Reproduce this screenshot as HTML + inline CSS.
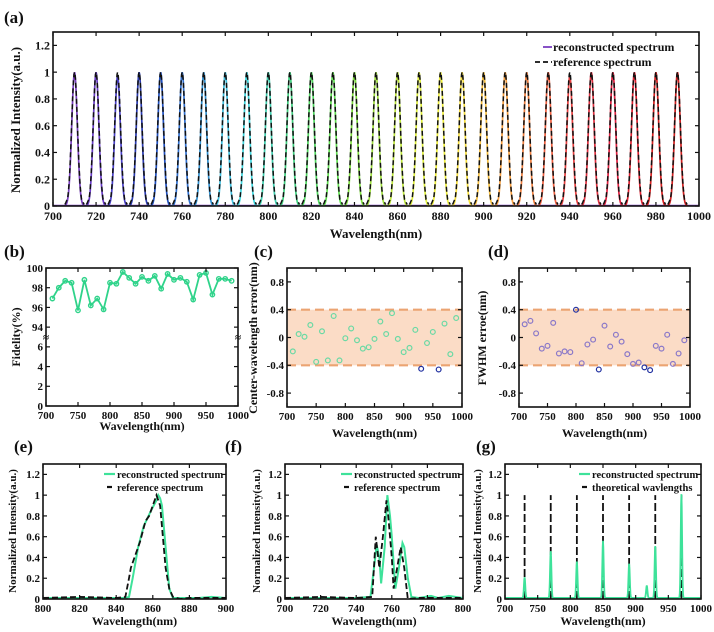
<!DOCTYPE html>
<html><head><meta charset="utf-8">
<style>
html,body{margin:0;padding:0;background:#fff;}
svg{display:block;font-family:"Liberation Serif",serif;font-weight:bold;}
</style></head>
<body>
<svg id="fig" width="714" height="632" viewBox="0 0 714 632" xmlns="http://www.w3.org/2000/svg"></svg>
<script>
// ---------- data ----------
const peakCenters = [710,720,730,740,750,760,770,780,790,800,810,820,830,840,850,860,870,880,890,900,910,920,930,940,950,960,970,980,990];
const peakHeights = [1,1,0.97,1,1,1,1,1,1,1,1,1,1,1,1,1,1,1,1,1,1,1,1,0.97,1,1,1,1,1];
const peakColors = ["#7a3fc0","#6a3cc8","#4a40c8","#2a3ab0","#2050c0","#3070d0","#3090d0","#40c0e0","#40d8e0","#40d0b0","#40d080","#50d860","#60e050","#80e040","#a0e040","#c0e840","#e0f040","#f0f040","#f8e040","#f8c040","#f8a040","#f08040","#f06040","#e84040","#e03040","#e02040","#e02030","#d82020","#d02020"];

const fidWl = [710,720,730,740,750,760,770,780,790,800,810,820,830,840,850,860,870,880,890,900,910,920,930,940,950,960,970,980,990];
const fidVals = [96.9,98.0,98.7,98.5,95.7,98.8,96.2,96.9,95.8,98.5,98.4,99.6,99.0,98.4,99.1,98.7,99.2,97.9,99.4,98.8,99.0,98.6,96.8,99.3,99.5,97.3,98.9,98.9,98.7];
const cwErr = [-0.2,0.05,0.01,0.18,-0.35,0.09,-0.33,0.31,-0.33,-0.01,0.13,-0.04,-0.16,-0.14,-0.02,0.23,0.05,0.35,-0.02,-0.21,-0.15,0.11,-0.45,-0.08,0.08,-0.46,0.2,-0.24,0.28];
const fwhmErr = [0.19,0.24,0.06,-0.16,-0.12,0.21,-0.23,-0.2,-0.21,0.4,-0.37,-0.1,-0.03,-0.46,0.17,-0.13,0.04,-0.06,-0.24,-0.38,-0.36,-0.43,-0.47,-0.12,-0.16,0.04,-0.38,-0.23,-0.04];

const eWl    = [800,810,820,830,840,845,847,849,852,855,859,862,863,864,865,867,869,871,875,885,892,900];
const eRecon = [0.01,0.01,0.01,0.01,0.01,0.01,0.02,0.2,0.5,0.7,0.85,0.95,1.0,0.97,0.9,0.5,0.1,0.01,0.01,0.01,0.02,0.01];
const eRefWl = [800,820,840,845,847,848,851,853,856,858,860,862,864,865.5,867,869,871,875,880,900];
const eRef   = [0.01,0.02,0.01,0.02,0.2,0.3,0.45,0.55,0.75,0.8,0.9,1.0,0.9,0.6,0.3,0.1,0.02,0.0,0.01,0.01];

const fWl    = [700,720,740,748,750,751.5,753,754,756,757.5,759,760,762,764,766,767,769,771,775,782,786,792,800];
const fRecon = [0.01,0.01,0.01,0.02,0.3,0.52,0.4,0.15,0.5,1.0,0.8,0.6,0.1,0.3,0.54,0.5,0.2,0.02,0.01,0.03,0.01,0.03,0.01];
const fRefWl = [700,720,740,749,751,753,755,757,758,760,761,763,765,767,769,775,800];
const fRef   = [0.01,0.02,0.01,0.02,0.6,0.3,0.6,0.95,0.8,0.4,0.1,0.3,0.5,0.3,0.0,0.01,0.01];

const gTheory = [730,770,810,850,890,930,970];
const gPeakWl = [730,770,810,850,890,917,930,970];
const gPeakH  = [0.2,0.45,0.35,0.55,0.33,0.12,0.5,1.0];

// ---------- helpers ----------
const NS = "http://www.w3.org/2000/svg";
const svg = document.getElementById("fig");
function tag(e, name, inter){
  
  
  return e;
}
function mk(t, attrs, parent){
  const e = document.createElementNS(NS, t);
  for (const k in attrs) e.setAttribute(k, attrs[k]);
  (parent || svg).appendChild(e);
  return e;
}
function txt(s, x, y, size, anchor, parent, name, rot){
  const e = mk("text", {x:x, y:y, "font-size":size, "text-anchor":anchor||"middle", fill:"#111"}, parent);
  if (rot) e.setAttribute("transform", "rotate(-90 "+x+" "+y+")");
  e.textContent = s;
  tag(e, name, false);
  return e;
}
function axes(P){
  P.sx = v => P.l + (v - P.xmin) / (P.xmax - P.xmin) * (P.r - P.l);
  P.sy = v => P.b - (v - P.ymin) / (P.ymax - P.ymin) * (P.b - P.t);
  const g = mk("g", {});
  tag(g, P.name, false);
  P.g = g;
  const clip = mk("clipPath", {id: P.name + "-clip"}, g);
  mk("rect", {x:P.l, y:P.t, width:P.r-P.l, height:P.b-P.t}, clip);
  P.plot = mk("g", {"clip-path": "url(#" + P.name + "-clip)"}, g);
  tag(P.plot, P.name + "-plot-area", false);
  return P;
}
function frame(P, xt, yt, ytl, fs){
  const g = P.g;
  const box = mk("rect", {x:P.l, y:P.t, width:P.r-P.l, height:P.b-P.t, fill:"none", stroke:"#111", "stroke-width":1.6}, g);
  tag(box, P.name + "-frame", false);
  xt.forEach(v => {
    const x = P.sx(v);
    mk("line", {x1:x, x2:x, y1:P.b, y2:P.b-4, stroke:"#111", "stroke-width":1.2}, g);
    mk("line", {x1:x, x2:x, y1:P.t, y2:P.t+4, stroke:"#111", "stroke-width":1.2}, g);
    txt(String(v), x, P.b + fs + 2, fs, "middle", g, "x-tick-label");
  });
  yt.forEach((v, i) => {
    const y = P.sy(v);
    mk("line", {x1:P.l, x2:P.l+4, y1:y, y2:y, stroke:"#111", "stroke-width":1.2}, g);
    mk("line", {x1:P.r, x2:P.r-4, y1:y, y2:y, stroke:"#111", "stroke-width":1.2}, g);
    txt(ytl ? ytl[i] : String(v), P.l - 3, y + fs*0.35, fs, "end", g, "y-tick-label");
  });
}
function poly(P, xs, ys, style, name){
  const pts = xs.map((x, i) => P.sx(x).toFixed(2) + "," + P.sy(ys[i]).toFixed(2)).join(" ");
  const e = mk("polyline", Object.assign({points: pts, fill: "none"}, style), P.plot);
  tag(e, name, false);
  return e;
}
function gauss(c, h, s, lo, hi, step){
  const xs = [], ys = [];
  for (let x = lo; x <= hi + 1e-9; x += step){ xs.push(x); ys.push(h * Math.exp(-((x-c)*(x-c))/(2*s*s))); }
  return [xs, ys];
}
const GREEN = "#3ee29a";

// ---------- panel a ----------
const A = axes({name:"panel-a", l:53, r:699, t:32, b:206, xmin:700, xmax:1000, ymin:0, ymax:1.3});
const aBase = mk("line", {x1:A.l, x2:A.r, y1:A.sy(0.005), y2:A.sy(0.005), stroke:"#7a3fc0", "stroke-width":1.2}, A.plot);
tag(aBase, "recon-baseline", false);
peakCenters.forEach((c, i) => {
  const [xs, ys] = gauss(c, peakHeights[i], 1.3, c-5, c+5, 0.25);
  poly(A, xs, ys, {stroke: peakColors[i], "stroke-width": 1.7}, "recon-peak-" + c);
});
peakCenters.forEach((c, i) => {
  const [xs, ys] = gauss(c, 1, 1.35, c-4.5, c+4.5, 0.25);
  ys.forEach((v, k) => { if (Math.abs(xs[k]-c) > 3.2) ys[k] = 0.03 + 0.02*Math.cos((xs[k]-c)*2); });
  poly(A, xs, ys, {stroke:"#111", "stroke-width":1.5, "stroke-dasharray":"5,3"}, "ref-peak-" + c);
});
frame(A, [700,720,740,760,780,800,820,840,860,880,900,920,940,960,980,1000], [0,0.2,0.4,0.6,0.8,1,1.2], ["0","0.2","0.4","0.6","0.8","1","1.2"], 12);
txt("Wavelength(nm)", 376, 238, 13, "middle", A.g, "x-axis-title");
txt("Normalized Intensity(a.u.)", 20, 120, 13, "middle", A.g, "y-axis-title", true);
txt("(a)", 4, 23, 17, "start", A.g, "panel-label");
let lg = mk("g", {}, A.g); tag(lg, "legend", false);
let l1 = mk("line", {x1:543, x2:552, y1:47, y2:47, stroke:"#7a3fc0", "stroke-width":1.8}, lg); tag(l1, "legend-swatch-recon", false);
txt("reconstructed spectrum", 553, 51, 12, "start", lg, "legend-entry-recon");
let l2 = mk("line", {x1:535, x2:552, y1:62, y2:62, stroke:"#111", "stroke-width":1.8, "stroke-dasharray":"5,3"}, lg); tag(l2, "legend-swatch-ref", false);
txt("reference spectrum", 553, 66, 12, "start", lg, "legend-entry-ref");

// ---------- panel b ----------
const B = axes({name:"panel-b", l:46, r:238, t:268, b:406, xmin:700, xmax:1000, ymin:0, ymax:14});
const fidD = v => v >= 90 ? v - 86 : v;
poly(B, fidWl, fidVals.map(fidD), {stroke:"#2fd38a", "stroke-width":1.8}, "fidelity-line");
fidWl.forEach((w, i) => {
  const c = mk("circle", {cx:B.sx(w), cy:B.sy(fidD(fidVals[i])), r:2.2, fill:"none", stroke:"#2fd38a", "stroke-width":1.4}, B.plot);
  tag(c, "fidelity-point", false);
});
frame(B, [700,750,800,850,900,950,1000], [0,2,4,6,8,10,12,14], ["0","2","4","6","94","96","98","100"], 11);
["l","r"].forEach(s => {
  const x = s === "l" ? B.l : B.r, y = B.sy(7);
  const bk = mk("text", {x:x, y:y+4, "font-size":11, "text-anchor":"middle", fill:"#111"}, B.g);
  bk.textContent = "≈";
  tag(bk, "axis-break", false);
});
txt("Wavelength(nm)", 142, 430, 12, "middle", B.g, "x-axis-title");
txt("Fidelity(%)", 20, 337, 12, "middle", B.g, "y-axis-title", true);
txt("(b)", 4, 257, 17, "start", B.g, "panel-label");

// ---------- panels c, d ----------
function errPanel(name, l, r, errs, col, dark, ylab, lbl, lblx, ylx){
  const P = axes({name:name, l:l, r:r, t:268, b:407, xmin:700, xmax:1000, ymin:-1, ymax:1});
  const band = mk("rect", {x:P.l, y:P.sy(0.4), width:P.r-P.l, height:P.sy(-0.4)-P.sy(0.4), fill:"#fbdcc6"}, P.plot);
  tag(band, "tolerance-band", false);
  [0.4,-0.4].forEach(v => {
    const ln = mk("line", {x1:P.l, x2:P.r, y1:P.sy(v), y2:P.sy(v), stroke:"#eba472", "stroke-width":2.2, "stroke-dasharray":"9,5"}, P.plot);
    tag(ln, "tolerance-line", false);
  });
  fidWl.forEach((w, i) => {
    const c = mk("circle", {cx:P.sx(w), cy:P.sy(errs[i]), r:2.4, fill:"none", stroke:(dark && dark.includes(w)) ? "#2030a0" : col, "stroke-width":1.2}, P.plot);
    tag(c, "error-point", false);
  });
  frame(P, [700,750,800,850,900,950,1000], [-0.8,-0.4,0,0.4,0.8], ["-0.8","-0.4","0","0.4","0.8"], 11);
  txt("Wavelength(nm)", (l+r)/2, 437, 12, "middle", P.g, "x-axis-title");
  txt(ylab, ylx, 338, 12, "middle", P.g, "y-axis-title", true);
  txt(lbl, lblx, 257, 17, "start", P.g, "panel-label");
}
errPanel("panel-c", 287, 462, cwErr, "#6ad9a4", [930,960], "Center-wavelength error(nm)", "(c)", 254, 257);
errPanel("panel-d", 519, 690, fwhmErr, "#8a78c8", [800,840,920,930], "FWHM erroe(nm)", "(d)", 488, 486);

// ---------- panels e, f, g ----------
function specFrame(P, xt, lbl, lblx, ylx, leg2){
  frame(P, xt, [0,0.2,0.4,0.6,0.8,1,1.2], ["0","0.2","0.4","0.6","0.8","1","1.2"], 11);
  txt("Wavelength(nm)", (P.l+P.r)/2, 625, 12, "middle", P.g, "x-axis-title");
  txt("Normalized Intensity(a.u.)", ylx, 531, 11, "middle", P.g, "y-axis-title", true);
  txt(lbl, lblx, 452, 17, "start", P.g, "panel-label");
  const lg = mk("g", {}, P.g); tag(lg, "legend", false);
  const x0 = P.r - 122;
  const s1 = mk("line", {x1:x0, x2:x0+11, y1:474, y2:474, stroke:GREEN, "stroke-width":2.2}, lg); tag(s1, "legend-swatch-recon", false);
  txt("reconstructed spectrum", x0+13, 478, 10.5, "start", lg, "legend-entry-recon");
  const s2 = mk("line", {x1:x0+3, x2:x0+8, y1:487, y2:487, stroke:"#111", "stroke-width":2.2}, lg); tag(s2, "legend-swatch-ref", false);
  txt(leg2, x0+13, 491, 10.5, "start", lg, "legend-entry-ref");
}
const E = axes({name:"panel-e", l:43, r:226, t:464, b:599, xmin:800, xmax:900, ymin:0, ymax:1.3});
poly(E, eWl, eRecon, {stroke:GREEN, "stroke-width":2}, "recon-spectrum");
poly(E, eRefWl, eRef, {stroke:"#111", "stroke-width":1.8, "stroke-dasharray":"6,3"}, "reference-spectrum");
specFrame(E, [800,820,840,860,880,900], "(e)", 14, 16, "reference spectrum");

const F = axes({name:"panel-f", l:285, r:463, t:464, b:599, xmin:700, xmax:800, ymin:0, ymax:1.3});
poly(F, fWl, fRecon, {stroke:GREEN, "stroke-width":2}, "recon-spectrum");
poly(F, fRefWl, fRef, {stroke:"#111", "stroke-width":1.8, "stroke-dasharray":"6,3"}, "reference-spectrum");
specFrame(F, [700,720,740,760,780,800], "(f)", 225, 260, "reference spectrum");

const G = axes({name:"panel-g", l:505, r:701, t:464, b:599, xmin:700, xmax:1000, ymin:0, ymax:1.3});
gTheory.forEach(w => {
  const ln = mk("line", {x1:G.sx(w), x2:G.sx(w), y1:G.sy(0), y2:G.sy(1), stroke:"#111", "stroke-width":1.8, "stroke-dasharray":"8,3"}, G.plot);
  tag(ln, "theoretical-wavelength-" + w, false);
});
{
  const xs = [], ys = [];
  for (let x = 700; x <= 1000; x += 0.5){
    let y = 0.01;
    gPeakWl.forEach((c, i) => { y += gPeakH[i] * Math.exp(-((x-c)*(x-c))/(2*1.0*1.0)); });
    xs.push(x); ys.push(y);
  }
  poly(G, xs, ys, {stroke:GREEN, "stroke-width":1.8}, "recon-spectrum");
}
specFrame(G, [700,750,800,850,900,950,1000], "(g)", 476, 481, "theoretical wavlengths");
</script>
</body></html>
